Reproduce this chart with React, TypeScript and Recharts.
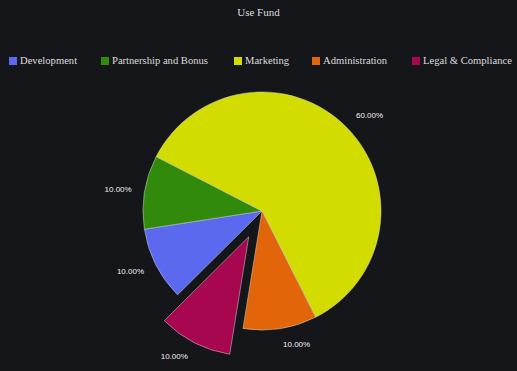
import React from 'react';
import { PieChart, Pie, Cell } from 'recharts';

const categories = ['Development', 'Partnership and Bonus', 'Marketing', 'Administration', 'Legal & Compliance'];
const values = [10, 10, 60, 10, 10];
const colors = ['#5a69ee', '#318a0c', '#d3dc00', '#e2650a', '#a6074f'];
const explodedName = 'Legal & Compliance';

const data = categories.map((name, i) => ({ name, value: values[i] }));
const total = values.reduce((a, b) => a + b, 0);

const START = 224.8;
const END = START - 360;
const OFFSET = 29;
const RAD = Math.PI / 180;

const explodedIndex = categories.indexOf(explodedName);
const before = values.slice(0, explodedIndex).reduce((a, b) => a + b, 0);
const midAngle = START - ((before + values[explodedIndex] / 2) / total) * 360;
const offX = OFFSET * Math.cos(midAngle * RAD);
const offY = -OFFSET * Math.sin(midAngle * RAD);

const CX = 262;
const CY = 211;
const R = 119;

const legendLefts = [9, 101, 234, 312, 412];

const renderLabel = (props: any) => {
  const { cx, cy, midAngle: ma, outerRadius, percent, index } = props;
  const r = outerRadius + 12;
  const cos = Math.cos(-ma * RAD);
  const sin = Math.sin(-ma * RAD);
  let x = cx + r * cos + (cos >= 0 ? 1 : -1);
  let y = cy + r * sin + sin * 4;
  if (index === explodedIndex) {
    x += offX;
    y += offY;
  }
  return (
    <text x={x} y={y} fill="#f2f2f2" fontSize={8} fontFamily="Liberation Sans, Arial, sans-serif" textAnchor={cos >= 0 ? 'start' : 'end'} dominantBaseline="central">
      {(percent * 100).toFixed(2)}%
    </text>
  );
};

export default function App() {
  return (
    <div style={{ position: 'absolute', left: 0, top: 0, width: 517, height: 371, background: '#15161a', overflow: 'hidden' }}>
      <div style={{ position: 'absolute', top: 6, width: 517, textAlign: 'center', fontFamily: 'Liberation Serif, serif', fontSize: 11, color: '#dddddd' }}>
        Use Fund
      </div>
      {categories.map((c, i) => (
        <div key={c} style={{ position: 'absolute', top: 55, left: legendLefts[i], display: 'flex', alignItems: 'center', whiteSpace: 'nowrap', fontFamily: 'Liberation Serif, serif', fontSize: 10.6, color: '#dddddd' }}>
          <span style={{ display: 'inline-block', width: 8, height: 8, background: colors[i], marginRight: 3 }} />
          <span>{c}</span>
        </div>
      ))}
      <div style={{ position: 'absolute', left: 0, top: 0 }}>
        <PieChart width={517} height={371} margin={{ top: 0, right: 0, bottom: 0, left: 0 }}>
          <Pie
            data={data}
            dataKey="value"
            nameKey="name"
            cx={CX}
            cy={CY}
            outerRadius={R}
            startAngle={START}
            endAngle={END}
            strokeWidth={0.5}
            label={renderLabel}
            labelLine={false}
            isAnimationActive={false}
          >
            {data.map((d, i) => (
              <Cell key={d.name} fill={i === explodedIndex ? 'transparent' : colors[i]} stroke={i === explodedIndex ? 'none' : '#d8d8d8'} />
            ))}
          </Pie>
          <Pie
            data={data}
            dataKey="value"
            nameKey="name"
            cx={CX + offX}
            cy={CY + offY}
            outerRadius={R}
            startAngle={START}
            endAngle={END}
            strokeWidth={0.5}
            legendType="none"
            isAnimationActive={false}
          >
            {data.map((d, i) => (
              <Cell key={d.name} fill={i === explodedIndex ? colors[i] : 'transparent'} stroke={i === explodedIndex ? '#d8d8d8' : 'none'} />
            ))}
          </Pie>
        </PieChart>
      </div>
    </div>
  );
}
